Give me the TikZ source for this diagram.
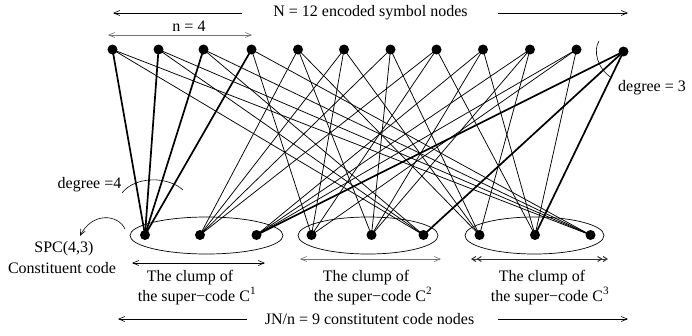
\documentclass[tikz,border=0pt]{standalone}
\usepackage{fontspec}
\setmainfont{Liberation Serif}
\usetikzlibrary{arrows.meta,shapes.geometric}
\begin{document}
\begin{tikzpicture}[x=1pt,y=-1pt,
  lbl/.style={font=\fontsize{16}{18}\selectfont, inner sep=0pt},
  dot/.style={circle, fill=black, minimum size=10pt, inner sep=0pt},
  thinedge/.style={line width=0.75pt},
  thickedge/.style={line width=1.7pt},
  clump/.style={draw, ellipse, line width=0.7pt, inner sep=0pt, minimum height=37pt},
  barb/.style={-{Straight Barb[length=6pt,width=5pt]}, line width=0.6pt},
  dbarb/.style={{Straight Barb[length=6pt,width=5pt]}-{Straight Barb[length=6pt,width=5pt]}, line width=0.6pt},
  ddbarb/.style={{Straight Barb[length=4pt,width=5pt] Straight Barb[length=4pt,width=5pt]}-{Straight Barb[length=4pt,width=5pt] Straight Barb[length=4pt,width=5pt]}, line width=1pt, draw=black!80},
]
\useasboundingbox (0,0) rectangle (692,335);

% clump ellipses
\node[clump, minimum width=153pt] (E1) at (206.5,235.5) {};
\node[clump, minimum width=140pt] (E2) at (368,235.5) {};
\node[clump, minimum width=139pt] (E3) at (534.5,235.5) {};

% node coordinates
\coordinate (T1) at (112.5,49.5);
\coordinate (T2) at (158.5,49.5);
\coordinate (T3) at (203.5,49.5);
\coordinate (T4) at (251.5,49.5);
\coordinate (T5) at (298,49.5);
\coordinate (T6) at (344,49.5);
\coordinate (T7) at (390.5,49.5);
\coordinate (T8) at (436.5,49.5);
\coordinate (T9) at (483,49.5);
\coordinate (T10) at (530,49.5);
\coordinate (T11) at (576.5,49.5);
\coordinate (T12) at (623.5,51.5);
\coordinate (B1) at (145,235);
\coordinate (B2) at (200,235);
\coordinate (B3) at (256.5,235);
\coordinate (B4) at (311.5,235);
\coordinate (B5) at (371.5,235);
\coordinate (B6) at (423.5,235);
\coordinate (B7) at (479.5,235);
\coordinate (B8) at (535,235);
\coordinate (B9) at (590.5,235);

% edges
\foreach \t in {1,2,3,4} \draw[thickedge] (T\t) -- (B1);
\foreach \t in {5,6,7,8} \draw[thinedge] (T\t) -- (B2);
\foreach \t in {9,10,11} \draw[thinedge] (T\t) -- (B3);
\draw[thickedge] (T12) -- (B3);
\foreach \t in {4,6,8,11} \draw[thinedge] (T\t) -- (B4);
\foreach \t in {5,7,9,10} \draw[thinedge] (T\t) -- (B5);
\foreach \t in {1,2,3} \draw[thinedge] (T\t) -- (B6);
\draw[thickedge] (T12) -- (B6);
\foreach \t in {5,6,7,10} \draw[thinedge] (T\t) -- (B7);
\foreach \t in {8,9,11} \draw[thinedge] (T\t) -- (B8);
\draw[thickedge] (T12) -- (B8);
\foreach \t in {1,2,3,4} \draw[thinedge] (T\t) -- (B9);

% dots
\foreach \i in {1,...,12} \node[dot] (t\i) at (T\i) {};
\foreach \i in {1,...,9} \node[dot] (b\i) at (B\i) {};

% top label and arrows
\node[lbl] (Ntxt) at (370.5,13) {N = 12 encoded symbol nodes};
\coordinate (NL0) at (242,13); \coordinate (NL1) at (113,13);
\coordinate (NR0) at (498,13); \coordinate (NR1) at (628,13);
\draw[barb] (NL0) -- (NL1);
\draw[barb] (NR0) -- (NR1);

\node[lbl] (ntxt) at (189,26) {n = 4};
\coordinate (nA) at (108,35); \coordinate (nB) at (252,35);
\draw[dbarb, draw=black!55] (nA) -- (nB);

% degree annotations
\node[lbl] (deg4) at (89.5,185) {degree =4};
\coordinate (d4a) at (122,193); \coordinate (d4b) at (183,190);
\draw[line width=0.6pt] (d4a) .. controls (135,176) and (168,176) .. (d4b);

\node[lbl, anchor=west] (deg3) at (618,88) {degree = 3};
\coordinate (d3a) at (599,41); \coordinate (d3b) at (612,78);
\draw[line width=0.6pt] (d3a) .. controls (593,50) and (597,69) .. (d3b);

% SPC label
\node[lbl] (spc) at (64,249) {SPC(4,3)};
\node[lbl] (cc) at (62,268) {Constituent code};
\coordinate (sA) at (125,229); \coordinate (sB) at (80,236);
\draw[barb] (sA) .. controls (118,214) and (92,212) .. (sB);

% clump arrows
\coordinate (c1a) at (132,263); \coordinate (c1b) at (265,263);
\draw[dbarb] (c1a) -- (c1b);
\coordinate (c2a) at (300,259); \coordinate (c2b) at (441,259);
\draw[dbarb, draw=black!55] (c2a) -- (c2b);
\coordinate (c3a) at (471,259); \coordinate (c3b) at (608,259);
\draw[ddbarb] (c3a) -- (c3b);

% clump labels
\node[lbl] (k1a) at (190,278) {The clump of};
\node[lbl] (k1b) at (197,296) {the super−code C\textsuperscript{1}};
\node[lbl] (k2a) at (366,278) {The clump of};
\node[lbl] (k2b) at (373,296) {the super−code C\textsuperscript{2}};
\node[lbl] (k3a) at (542,278) {The clump of};
\node[lbl] (k3b) at (550,296) {the super−code C\textsuperscript{3}};

% bottom label and arrows
\node[lbl] (Jtxt) at (369.5,319) {JN/n = 9 constitutent code nodes};
\coordinate (JL0) at (247,319); \coordinate (JL1) at (118,319);
\coordinate (JR0) at (498,319); \coordinate (JR1) at (628,319);
\draw[barb] (JL0) -- (JL1);
\draw[barb] (JR0) -- (JR1);
\end{tikzpicture}
\end{document}
